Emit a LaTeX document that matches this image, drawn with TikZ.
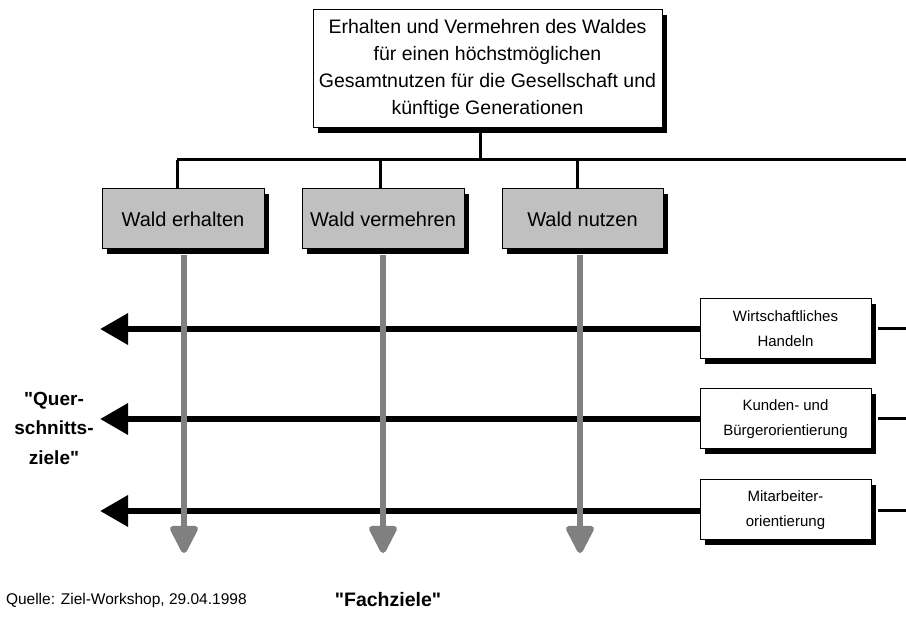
\documentclass[tikz,border=0pt]{standalone}
\usepackage{fontspec}
\setmainfont{Liberation Sans}
\usetikzlibrary{arrows.meta,shadows}
\definecolor{boxgray}{RGB}{192,192,192}
\definecolor{arrowgray}{RGB}{128,128,128}
\newcommand{\qq}{\textquotedbl}
\begin{document}
\begin{tikzpicture}[x=1pt,y=-1pt,
  every node/.style={inner sep=0pt, outer sep=0pt},
  shadowed/.style={draw=black, line width=1pt,
    drop shadow={shadow xshift=5pt, shadow yshift=-5pt, opacity=1, fill=black}},
  goalbox/.style={shadowed, fill=white, align=center,
    font=\fontsize{19.5}{27}\selectfont},
  areabox/.style={shadowed, fill=boxgray, minimum width=162pt, minimum height=60pt,
    font=\fontsize{20}{22}\selectfont},
  crossbox/.style={shadowed, fill=white, minimum width=171pt, minimum height=60pt,
    align=center, font=\fontsize{15}{25}\selectfont},
  tree/.style={line width=3pt},
  crossarrow/.style={line width=6.5pt, -{Triangle[width=30pt,length=28pt]}},
  areaarrow/.style={draw=arrowgray, line width=6pt,
    -{Triangle[width=30pt,length=31pt,round]}},
  lbl/.style={align=center, font=\bfseries\fontsize{19}{29.5}\selectfont}
]
\useasboundingbox (0,0) rectangle (906,617);

% main goal
\node[goalbox, minimum width=349pt, minimum height=118pt] (top) at (487.5,69)
  {Erhalten und Vermehren des Waldes\\ für einen höchstmöglichen\\
   Gesamtnutzen für die Gesellschaft und\\ künftige Generationen};

% the three subject areas
\node[areabox] (erh) at (183,219) {Wald erhalten};
\node[areabox] (verm) at (383,219) {Wald vermehren};
\node[areabox, minimum width=161pt] (nutz) at (582.5,219) {Wald nutzen};

% tree connections
\coordinate (j) at (480,160);
\coordinate (jl) at (177,160);
\coordinate (jr) at (906,160);
\draw[tree] (top.south -| j) -- (j);
\draw[tree] (jl) -- (jr);
\draw[tree] (jl) -- (jl |- erh.north);
\draw[tree] (380,160) -- (380,189);
\draw[tree] (577,160) -- (577,189);

% cross-sectional goals
\node[crossbox] (wirt) at (785.5,329) {Wirtschaftliches\\ Handeln};
\node[crossbox] (kund) at (785.5,419) {Kunden- und\\ Bürgerorientierung};
\node[crossbox] (mita) at (785.5,510) {Mitarbeiter-\\ orientierung};

\coordinate (t1) at (100,329);
\coordinate (t2) at (100,419);
\coordinate (t3) at (100,511);
\draw[crossarrow] (wirt.west) -- (t1);
\draw[crossarrow] (kund.west) -- (t2);
\draw[crossarrow] (mita.west |- t3) -- (t3);

\draw[tree] (878,329) -- (906,329);
\draw[tree] (878,419) -- (906,419);
\draw[tree] (878,511) -- (906,511);

% subject goal arrows
\coordinate (d1) at (184,553);
\coordinate (d2) at (383,553);
\coordinate (d3) at (580,553);
\draw[areaarrow] (184,255) -- (d1);
\draw[areaarrow] (383,255) -- (d2);
\draw[areaarrow] (580,255) -- (d3);

% labels
\node[lbl] (quer) at (54,428) {\qq Quer-\\ schnitts-\\ ziele\qq};
\node[font=\fontsize{15.5}{17}\selectfont, anchor=west] (src) at (6,600)
  {Quelle: Ziel-Workshop, 29.04.1998};
\node[font=\bfseries\fontsize{19.5}{21}\selectfont] (fach) at (388,600) {\qq Fachziele\qq};
\end{tikzpicture}
\end{document}
